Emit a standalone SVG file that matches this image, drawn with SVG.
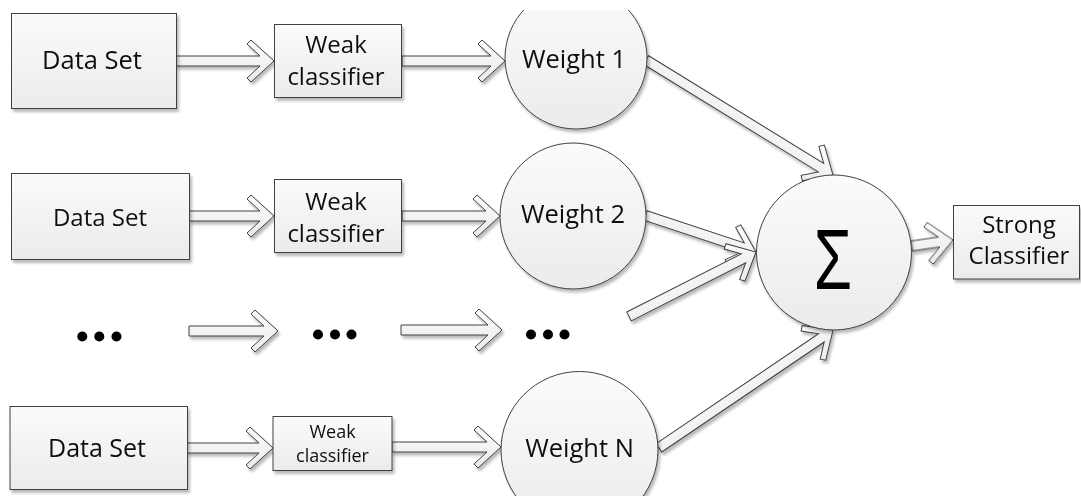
<svg xmlns="http://www.w3.org/2000/svg" width="1081" height="501" viewBox="0 0 1081 501">
  <defs>
    <linearGradient id="fillG" x1="0" y1="0" x2="0" y2="1">
      <stop offset="0" stop-color="#fbfbfb"/>
      <stop offset="1" stop-color="#ebebeb"/>
    </linearGradient>
    <filter id="shadow" x="-10%" y="-10%" width="130%" height="130%">
      <feGaussianBlur in="SourceAlpha" stdDeviation="1.4"/>
      <feOffset dx="2" dy="2.5" result="off"/>
      <feComponentTransfer><feFuncA type="linear" slope="0.28"/></feComponentTransfer>
      <feMerge><feMergeNode/><feMergeNode in="SourceGraphic"/></feMerge>
    </filter>
    <!-- drawing area: shapes are cut off at the top and bottom margins -->
    <clipPath id="page">
      <rect x="0" y="10" width="1081" height="486"/>
    </clipPath>
  </defs>
  <style>
    .box, .circ, .arr { fill: url(#fillG); stroke: #404040; stroke-width: 1; }
    .lbl { font-family: "Open Sans", "Liberation Sans", sans-serif; fill: #111; text-anchor: middle; }
    .dot { fill: #000; }
  </style>

  <g clip-path="url(#page)">
  <!-- connectors: hollow block arrows, tip at local origin pointing +x -->
  <g id="connectors" filter="url(#shadow)">
    <path class="arr" transform="translate(274,61)" d="M-98,-5H-14L-27,-17L-23,-21L0,0L-23,21L-27,17L-14,5H-98Z"/>
    <path class="arr" transform="translate(505,61)" d="M-103,-5H-14L-27,-17L-23,-21L0,0L-23,21L-27,17L-14,5H-103Z"/>
    <path class="arr" transform="translate(274,216)" d="M-85,-5H-14L-27,-17L-23,-21L0,0L-23,21L-27,17L-14,5H-85Z"/>
    <path class="arr" transform="translate(500,216)" d="M-98,-5H-14L-27,-17L-23,-21L0,0L-23,21L-27,17L-14,5H-98Z"/>
    <path class="arr" transform="translate(278,331)" d="M-89,-5H-14L-27,-17L-23,-21L0,0L-23,21L-27,17L-14,5H-89Z"/>
    <path class="arr" transform="translate(502,330)" d="M-101,-5H-14L-27,-17L-23,-21L0,0L-23,21L-27,17L-14,5H-101Z"/>
    <path class="arr" transform="translate(273,448)" d="M-86,-5H-14L-27,-17L-23,-21L0,0L-23,21L-27,17L-14,5H-86Z"/>
    <path class="arr" transform="translate(501,447)" d="M-109,-5H-14L-27,-17L-23,-21L0,0L-23,21L-27,17L-14,5H-109Z"/>
    <path class="arr" transform="translate(833,175) rotate(31.6)" d="M-219.5,-5H-14L-27,-17L-23,-21L0,0L-23,21L-27,17L-14,5H-219.5Z"/>
    <path class="arr" transform="translate(756,252) rotate(18.3)" d="M-116.4,-5H-14L-27,-17L-23,-21L0,0L-23,21L-27,17L-14,5H-116.4Z"/>
    <path class="arr" transform="translate(756,252) rotate(-26.9)" d="M-142.4,-5H-14L-27,-17L-23,-21L0,0L-23,21L-27,17L-14,5H-142.4Z"/>
    <path class="arr" transform="translate(833,330) rotate(-34.1)" d="M-210.2,-5H-14L-27,-17L-23,-21L0,0L-23,21L-27,17L-14,5H-210.2Z"/>
    <path class="arr" transform="translate(953,240) rotate(-8.2)" d="M-42,-5H-14L-27,-17L-23,-21L0,0L-23,21L-27,17L-14,5H-42Z"/>
  </g>

  <!-- row 1 -->
  <g id="data1" filter="url(#shadow)">
    <rect class="box" x="11.5" y="13.5" width="165" height="95"/>
    <text class="lbl" x="92" y="69" font-size="25.5">Data Set</text>
  </g>
  <g id="weak1" filter="url(#shadow)">
    <rect class="box" x="274.5" y="24.5" width="127" height="73"/>
    <text class="lbl" x="336" y="53" font-size="24">Weak</text>
    <text class="lbl" x="336" y="85" font-size="24">classifier</text>
  </g>
  <g id="weight1" filter="url(#shadow)">
    <circle class="circ" cx="576" cy="58" r="71"/>
    <text class="lbl" x="574" y="68" font-size="25.5">Weight 1</text>
  </g>

  <!-- row 2 -->
  <g id="data2" filter="url(#shadow)">
    <rect class="box" x="11.5" y="173.5" width="178" height="86"/>
    <text class="lbl" x="100" y="226" font-size="24">Data Set</text>
  </g>
  <g id="weak2" filter="url(#shadow)">
    <rect class="box" x="274.5" y="179.5" width="127" height="73"/>
    <text class="lbl" x="336" y="210" font-size="24">Weak</text>
    <text class="lbl" x="336" y="242" font-size="24">classifier</text>
  </g>
  <g id="weight2" filter="url(#shadow)">
    <circle class="circ" cx="573" cy="216" r="73"/>
    <text class="lbl" x="573" y="223" font-size="25.5">Weight 2</text>
  </g>

  <!-- ellipsis row -->
  <g id="dots1">
    <circle class="dot" cx="82.3" cy="336.5" r="5"/>
    <circle class="dot" cx="99.3" cy="336.5" r="5"/>
    <circle class="dot" cx="116.5" cy="336.5" r="5"/>
  </g>
  <g id="dots2">
    <circle class="dot" cx="318" cy="334.5" r="5"/>
    <circle class="dot" cx="335" cy="334.5" r="5"/>
    <circle class="dot" cx="351.5" cy="334.5" r="5"/>
  </g>
  <g id="dots3">
    <circle class="dot" cx="531" cy="334.5" r="5"/>
    <circle class="dot" cx="548" cy="334.5" r="5"/>
    <circle class="dot" cx="564.5" cy="334.5" r="5"/>
  </g>

  <!-- row N -->
  <g id="dataN" filter="url(#shadow)">
    <rect class="box" x="10" y="406.5" width="177.5" height="83"/>
    <text class="lbl" x="97" y="457" font-size="25">Data Set</text>
  </g>
  <g id="weakN" filter="url(#shadow)">
    <rect class="box" x="273" y="416.5" width="119" height="54"/>
    <text class="lbl" x="332.5" y="438" font-size="18">Weak</text>
    <text class="lbl" x="332.5" y="462" font-size="18">classifier</text>
  </g>
  <g id="weightN" filter="url(#shadow)">
    <circle class="circ" cx="579.5" cy="450" r="78.5"/>
    <text class="lbl" x="579.5" y="457" font-size="25.5">Weight N</text>
  </g>

  <!-- summation and output -->
  <g id="sum" filter="url(#shadow)">
    <circle class="circ" cx="834" cy="252.5" r="77.5"/>
    <text transform="translate(833,288.5) scale(0.72,1)" style="font-family:'Liberation Sans',sans-serif;fill:#000;text-anchor:middle" font-size="86">Σ</text>
  </g>
  <g id="strong" filter="url(#shadow)">
    <rect class="box" x="953.5" y="205.5" width="126" height="73.5"/>
    <text class="lbl" x="1019" y="233" font-size="24">Strong</text>
    <text class="lbl" x="1019" y="264" font-size="24">Classifier</text>
  </g>
  </g>
</svg>
